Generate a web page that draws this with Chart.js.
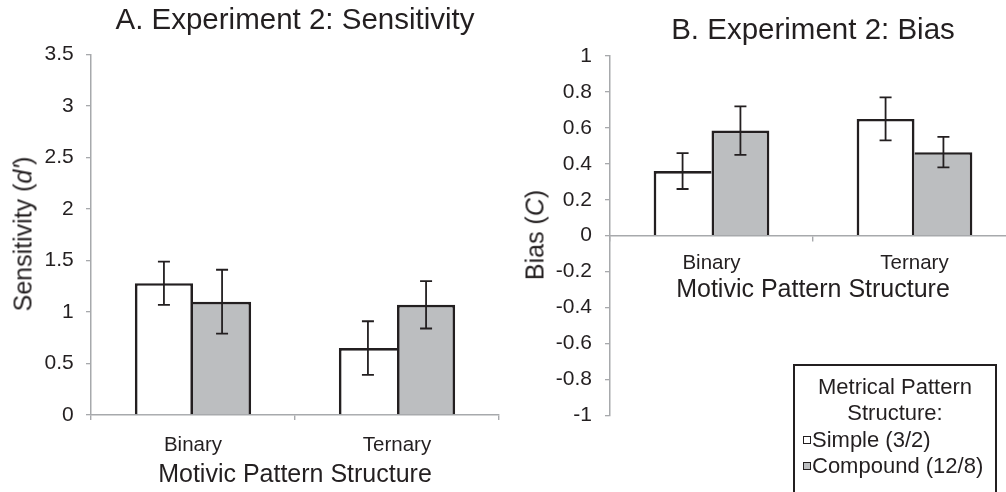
<!DOCTYPE html>
<html><head><meta charset="utf-8">
<script src="https://cdn.jsdelivr.net/npm/chart.js@4"></script>
<style>
html,body{margin:0;padding:0;background:#fff;overflow:hidden;width:1006px;height:492px;position:relative;}
.wrap{position:absolute;top:0;}
.ytitle{position:absolute;font-family:'Liberation Sans',Arial,sans-serif;font-size:25px;line-height:25px;color:#231f20;white-space:nowrap;transform:translate(-50%,-50%) rotate(-90deg);}
#legend{position:absolute;left:793px;top:364px;width:204px;height:140px;border:2px solid #231f20;box-sizing:border-box;font-family:'Liberation Sans',Arial,sans-serif;color:#231f20;}
#legend .line{position:absolute;white-space:nowrap;}
#legend .sq{position:absolute;width:8px;height:8px;border:1.4px solid #231f20;box-sizing:border-box;}
</style></head>
<body>
<div class="wrap" style="left:0"><canvas id="ca" width="505" height="492"></canvas></div>
<div class="wrap" style="left:505px"><canvas id="cb" width="511" height="492"></canvas></div>
<div class="ytitle" style="left:23px;top:234px">Sensitivity (<i>d'</i>)</div>
<div class="ytitle" style="left:535px;top:235px">Bias (<i>C</i>)</div>
<div id="legend"></div>
<script>
// ---- data ----
const categories = ['Binary', 'Ternary'];
const seriesNames = ['Simple (3/2)', 'Compound (12/8)'];
const legendTitle = ['Metrical Pattern', 'Structure:'];
const sensSimple = [1.28, 0.65];
const sensSimpleErr = [0.21, 0.26];
const sensCompound = [1.10, 1.07];
const sensCompoundErr = [0.31, 0.23];
const biasSimple = [0.36, 0.65];
const biasSimpleErr = [0.10, 0.12];
const biasCompound = [0.585, 0.465];
const biasCompoundErr = [0.135, 0.085];
const sensAxis = [0, 3.5, 0.5];   // min, max, step
const biasAxis = [-1, 1, 0.2];

// ---- style / layout ----
const INK = '#231f20', AX = '#a7a9ac', GRAY = '#bcbec0';
const FONT = "'Liberation Sans', Arial, sans-serif";
Chart.defaults.font.family = FONT;
Chart.defaults.color = INK;

const BW = 2.7;
function borderFor(k) {
  return ctx => {
    const i = ctx.dataIndex, ds = ctx.chart.data.datasets;
    const mine = ds[k].data[i], other = ds[1 - k].data[i];
    const own = (mine > other || (mine === other && k === 0)) ? BW : 0;
    return k === 0 ? {top: BW, left: BW, right: own, bottom: 0}
                   : {top: BW, left: own, right: BW, bottom: 0};
  };
}

const errorBars = {
  id: 'errorBars',
  afterDatasetsDraw(chart) {
    const ctx = chart.ctx, y = chart.scales.y, cap = 6;
    chart.data.datasets.forEach((ds, k) => {
      chart.getDatasetMeta(k).data.forEach((bar, j) => {
        const v = ds.data[j], e = ds.errors[j];
        const t = y.getPixelForValue(v + e), b = y.getPixelForValue(v - e);
        ctx.save();
        ctx.strokeStyle = INK;
        ctx.lineWidth = 1.8;
        ctx.beginPath(); ctx.moveTo(bar.x, t); ctx.lineTo(bar.x, b); ctx.stroke();
        ctx.beginPath();
        ctx.moveTo(bar.x - cap, t); ctx.lineTo(bar.x + cap, t);
        ctx.moveTo(bar.x - cap, b); ctx.lineTo(bar.x + cap, b);
        ctx.stroke();
        ctx.restore();
      });
    });
  }
};

function makeDatasets(a, ae, b, be) {
  return [
    {label: seriesNames[0], data: a, errors: ae, backgroundColor: '#ffffff', borderColor: INK,
     borderWidth: borderFor(0), categoryPercentage: 0.57, barPercentage: 1},
    {label: seriesNames[1], data: b, errors: be, backgroundColor: GRAY, borderColor: INK,
     borderWidth: borderFor(1), categoryPercentage: 0.57, barPercentage: 1}
  ];
}

function makeOptions(cfg) {
  return {
    responsive: false, animation: false, devicePixelRatio: 1,
    layout: {padding: {left: 0, right: cfg.padRight, top: 0, bottom: cfg.padBottom}},
    plugins: {
      legend: {display: false}, tooltip: {enabled: false},
      title: {display: true, text: cfg.title, fullSize: false, color: INK,
              font: {size: 29.5, weight: 'normal'}, padding: cfg.titlePad}
    },
    scales: {
      x: {
        position: cfg.xPos,
        grid: {offset: true, drawOnChartArea: false, drawTicks: true, tickLength: 5, color: AX, lineWidth: 1.4},
        border: {display: true, color: AX, width: 1.5},
        ticks: {font: {size: 20.5}, color: INK, padding: cfg.xTickPad},
        title: {display: true, text: 'Motivic Pattern Structure', color: INK,
                font: {size: 25}, padding: {top: 0, bottom: cfg.xTitlePad}},
        afterFit: s => { s.height = cfg.xHeight; }
      },
      y: {
        min: cfg.axis[0], max: cfg.axis[1],
        ticks: {stepSize: cfg.axis[2], font: {size: 21}, color: INK, padding: cfg.yTickPad,
                callback: v => String(Math.round(v * 100) / 100)},
        grid: {drawOnChartArea: false, drawTicks: true, tickLength: 5, color: AX, lineWidth: 1.3},
        border: {display: true, color: AX, width: 1.5},
        afterFit: s => { s.width = cfg.yWidth; }
      }
    }
  };
}

new Chart(document.getElementById('ca'), {
  type: 'bar',
  data: {labels: categories, datasets: makeDatasets(sensSimple, sensSimpleErr, sensCompound, sensCompoundErr)},
  options: makeOptions({
    title: 'A. Experiment 2: Sensitivity', titlePad: {top: 3.3, bottom: 15.8},
    padRight: 505 - 499, padBottom: 0, xPos: 'bottom', xTickPad: 13, xTitlePad: 2, xHeight: 77,
    yWidth: 91, yTickPad: 12.2, axis: sensAxis
  }),
  plugins: [errorBars]
});

new Chart(document.getElementById('cb'), {
  type: 'bar',
  data: {labels: categories, datasets: makeDatasets(biasSimple, biasSimpleErr, biasCompound, biasCompoundErr)},
  options: makeOptions({
    title: 'B. Experiment 2: Bias', titlePad: {top: 13.3, bottom: 7.3},
    padRight: 511 - (1016 - 505), padBottom: 76.6, xPos: {y: 0}, xTickPad: 10.3, xTitlePad: 7.3, xHeight: 76.6,
    yWidth: 610 - 505, yTickPad: 13, axis: biasAxis
  }),
  plugins: [errorBars]
});

// ---- legend (HTML) ----
(function () {
  const lg = document.getElementById('legend');
  const lh = 26, fs = 22;
  const centers = [22.7, 49, 76, 102];
  legendTitle.forEach((t, i) => {
    const div = document.createElement('div');
    div.className = 'line';
    div.style.cssText = 'left:0;width:100%;text-align:center;top:' + (centers[i] - 2 - lh / 2) + 'px;line-height:' + lh + 'px;font-size:' + fs + 'px;';
    div.textContent = t;
    lg.appendChild(div);
  });
  const fills = ['#ffffff', GRAY];
  seriesNames.forEach((t, i) => {
    const c = centers[2 + i] - 2;
    const sq = document.createElement('div');
    sq.className = 'sq';
    sq.style.left = '8px';
    sq.style.top = (c - 4) + 'px';
    sq.style.background = fills[i];
    lg.appendChild(sq);
    const div = document.createElement('div');
    div.className = 'line';
    div.style.cssText = 'left:17px;top:' + (c - lh / 2) + 'px;line-height:' + lh + 'px;font-size:' + fs + 'px;';
    div.textContent = t;
    lg.appendChild(div);
  });
})();
</script>
</body></html>
